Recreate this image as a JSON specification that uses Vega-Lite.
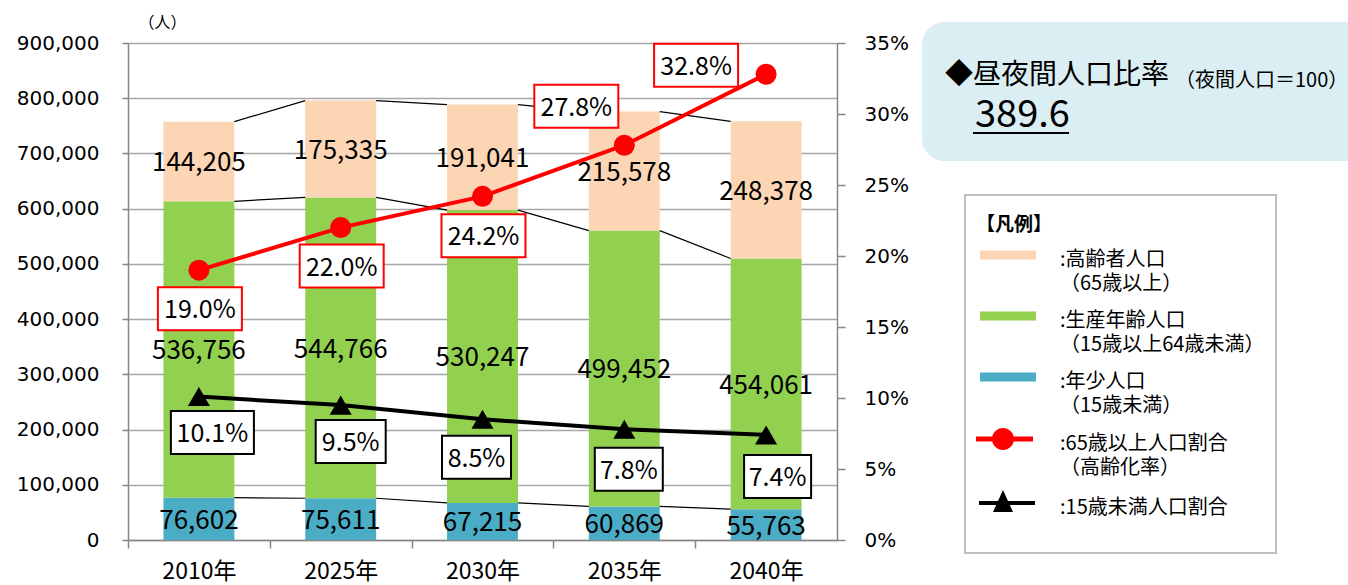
{
  "$schema": "https://vega.github.io/schema/vega-lite/v6.json",
  "width": 709,
  "height": 497,
  "autosize": {"type": "none"},
  "padding": {"left": 128, "top": 43, "right": 511, "bottom": 45},
  "background": "#ffffff",
  "title": {
    "text": "（夜間人口＝100）", "anchor": "start", "frame": "group", "orient": "top",
    "font": "Noto Sans CJK JP", "fontSize": 20, "fontWeight": "normal", "color": "#000000",
    "baseline": "middle", "offset": 0, "dx": 1047, "dy": 86
  },
  "config": {
    "view": {"stroke": null},
    "font": "Noto Sans CJK JP",
    "axisLeft": {
      "titleAngle": 0, "titleX": 34, "titleY": -20.5, "titleAlign": "center", "titleBaseline": "middle",
      "titleFont": "Noto Sans CJK JP", "titleFontSize": 16, "titleFontWeight": "normal", "titleColor": "#000000",
      "labelFont": "DejaVu Sans", "labelFontSize": 20, "labelColor": "#000000", "labelPadding": 23,
      "tickSize": 6, "tickColor": "#868686", "tickWidth": 1.5, "domainColor": "#868686", "domainWidth": 1.5,
      "grid": true, "gridColor": "#A6A6A6", "gridWidth": 1.5
    },
    "axisRight": {
      "labelFont": "DejaVu Sans", "labelFontSize": 20, "labelColor": "#000000", "labelPadding": 19,
      "tickSize": 8, "tickColor": "#868686", "tickWidth": 1.5, "domainColor": "#868686", "domainWidth": 1.5, "grid": false
    },
    "axisBottom": {
      "labelAngle": 0, "labelFont": "Noto Sans CJK JP", "labelFontSize": 23, "labelColor": "#000000",
      "labelPadding": 12, "tickSize": 8,
      "domainColor": "#868686", "domainWidth": 1.5, "tickColor": "#868686", "tickWidth": 1.5, "grid": false
    }
  },
  "datasets": {
    "pop": [
      {"year": "2010年", "young": 76602, "working": 536756, "elderly": 144205, "elderlyRate": 0.190, "youngRate": 0.101},
      {"year": "2025年", "young": 75611, "working": 544766, "elderly": 175335, "elderlyRate": 0.220, "youngRate": 0.095},
      {"year": "2030年", "young": 67215, "working": 530247, "elderly": 191041, "elderlyRate": 0.242, "youngRate": 0.085},
      {"year": "2035年", "young": 60869, "working": 499452, "elderly": 215578, "elderlyRate": 0.278, "youngRate": 0.078},
      {"year": "2040年", "young": 55763, "working": 454061, "elderly": 248378, "elderlyRate": 0.328, "youngRate": 0.074}
    ],
    "info": [
      {"item": "389.6"}
    ]
  },
  "layer": [
    {
      "layer": [
        {
          "data": {"name": "pop"},
          "transform": [
            {"fold": ["young", "working", "elderly"], "as": ["group", "count"]},
            {"stack": "count", "groupby": ["year"], "sort": [{"field": "group", "order": "descending"}], "as": ["c0", "c1"]},
            {"calculate": "(datum.c0 + datum.c1) / 2", "as": "cmid"}
          ],
          "layer": [
            {
              "mark": {"type": "bar"},
              "encoding": {
                "x": {
                  "field": "year", "type": "nominal", "sort": null,
                  "scale": {"paddingInner": 0.5, "paddingOuter": 0.25},
                  "axis": {"title": null, "tickOffset": -70.9, "labelOffset": 70.9}
                },
                "y": {
                  "field": "c0", "type": "quantitative", "scale": {"domain": [0, 900000]},
                  "axis": {"title": "（人）", "values": [0, 100000, 200000, 300000, 400000, 500000, 600000, 700000, 800000, 900000], "format": ",.0f"}
                },
                "y2": {"field": "c1"},
                "color": {
                  "field": "group", "type": "nominal",
                  "scale": {
                    "domain": ["elderly", "working", "young", "elderlyRate", "youngRate"],
                    "range": ["#FCD5B5", "#92D050", "#4BACC6", "#FF0000", "#000000"]
                  },
                  "legend": {
                    "title": [" ", "【凡例】"], "orient": "none", "legendX": 837, "legendY": 152,
                    "titleFont": "Noto Sans CJK JP", "titleFontSize": 19, "titleFontWeight": "bold", "titleColor": "#000000",
                    "titleLineHeight": 10, "titlePadding": 10,
                    "padding": 11, "strokeColor": "#BFBFBF", "fillColor": "#ffffff",
                    "labelFont": "Noto Sans CJK JP", "labelFontSize": 20, "labelColor": "#000000", "labelBaseline": "top",
                    "labelLimit": 400, "labelOffset": 44,
                    "symbolSize": 4, "symbolStrokeWidth": 0, "symbolOffset": 20, "rowPadding": 12,
                    "labelExpr": "datum.value === 'elderly' ? [':高齢者人口', '（65歳以上）'] : datum.value === 'working' ? [':生産年齢人口', '（15歳以上64歳未満）'] : datum.value === 'young' ? [':年少人口', '（15歳未満）'] : datum.value === 'elderlyRate' ? [':65歳以上人口割合', '（高齢化率）'] : [':15歳未満人口割合', ' ']",
                    "encode": {
                      "symbols": {"update": {
                        "shape": {"signal": "datum.value === 'elderlyRate' ? 'M-30,-2.5H27V2.5H-30Z M-14,0A11,11 0 1,1 8,0A11,11 0 1,1 -14,0Z' : datum.value === 'youngRate' ? 'M-27,-2H29V2H-27Z M-3,-13L7,9L-13,9Z' : 'M-26,-4.5H30V4.5H-26Z'"},
                        "fill": {"scale": "color", "field": "value"},
                        "stroke": {"value": "transparent"},
                        "strokeWidth": {"value": 0},
                        "opacity": {"value": 1},
                        "size": {"value": 4}
                      }},
                      "labels": {"update": {"dy": {"value": -5}, "lineHeight": {"value": 24}}},
                      "legend": {"update": {"strokeWidth": {"value": 2}}}
                    }
                  }
                }
              }
            },
            {
              "mark": {"type": "text", "font": "Noto Sans CJK JP", "fontSize": 26, "color": "#000000", "dy": 2},
              "encoding": {
                "x": {"field": "year", "type": "nominal", "sort": null, "axis": {"title": null}},
                "y": {"field": "cmid", "type": "quantitative", "scale": {"domain": [0, 900000]}, "axis": {"title": "（人）"}},
                "text": {"field": "count", "type": "quantitative", "format": ","}
              }
            }
          ]
        },
        {
          "data": {"name": "pop"},
          "transform": [
            {"calculate": "datum.young", "as": "b1"},
            {"calculate": "datum.young + datum.working", "as": "b2"},
            {"calculate": "datum.young + datum.working + datum.elderly", "as": "b3"},
            {"window": [
              {"op": "lead", "field": "year", "as": "nextYear"},
              {"op": "lead", "field": "b1", "as": "n1"},
              {"op": "lead", "field": "b2", "as": "n2"},
              {"op": "lead", "field": "b3", "as": "n3"}
            ], "sort": [{"field": "year"}]},
            {"filter": "datum.nextYear != null"},
            {"fold": ["b1", "b2", "b3"], "as": ["level", "from"]},
            {"calculate": "datum.level === 'b1' ? datum.n1 : datum.level === 'b2' ? datum.n2 : datum.n3", "as": "to"}
          ],
          "mark": {"type": "rule", "color": "#000000", "strokeWidth": 1.2},
          "encoding": {
            "x": {"field": "year", "type": "nominal", "sort": null, "bandPosition": 1, "axis": {"title": null}},
            "x2": {"field": "nextYear", "bandPosition": 0},
            "y": {"field": "from", "type": "quantitative", "scale": {"domain": [0, 900000]}, "axis": {"title": "（人）"}},
            "y2": {"field": "to"}
          }
        }
      ]
    },
    {
      "data": {"name": "pop"},
      "layer": [
        {
          "mark": {"type": "line", "color": "#FF0000", "strokeWidth": 4},
          "encoding": {
            "x": {"field": "year", "type": "nominal", "sort": null, "axis": {"title": null}},
            "y": {"field": "elderlyRate", "type": "quantitative", "scale": {"domain": [0, 0.35]},
              "axis": {"orient": "right", "title": null, "values": [0, 0.05, 0.1, 0.15, 0.2, 0.25, 0.3, 0.35], "format": ".0%"}}
          }
        },
        {
          "mark": {"type": "line", "color": "#000000", "strokeWidth": 4},
          "encoding": {
            "x": {"field": "year", "type": "nominal", "sort": null, "axis": {"title": null}},
            "y": {"field": "youngRate", "type": "quantitative", "scale": {"domain": [0, 0.35]}, "axis": {"orient": "right", "title": null}}
          }
        },
        {
          "mark": {"type": "point", "shape": "circle", "size": 441, "filled": true, "color": "#FF0000", "opacity": 1},
          "encoding": {
            "x": {"field": "year", "type": "nominal", "sort": null, "axis": {"title": null}},
            "y": {"field": "elderlyRate", "type": "quantitative", "scale": {"domain": [0, 0.35]}, "axis": {"orient": "right", "title": null}}
          }
        },
        {
          "mark": {"type": "point", "shape": "triangle-up", "size": 484, "filled": true, "color": "#000000", "opacity": 1},
          "encoding": {
            "x": {"field": "year", "type": "nominal", "sort": null, "axis": {"title": null}},
            "y": {"field": "youngRate", "type": "quantitative", "scale": {"domain": [0, 0.35]}, "axis": {"orient": "right", "title": null}}
          }
        },
        {
          "mark": {"type": "point", "size": 4, "filled": true, "fill": "#ffffff", "stroke": "#FF0000", "strokeWidth": 2, "opacity": 1},
          "encoding": {
            "x": {"field": "year", "type": "nominal", "sort": null, "axis": {"title": null}},
            "y": {"field": "elderlyRate", "type": "quantitative", "scale": {"domain": [0, 0.35]}, "axis": {"orient": "right", "title": null}},
            "shape": {
              "condition": [
                {"test": "datum.year === '2030年'", "value": "M-41,18H43V61H-41Z"},
                {"test": "datum.year === '2035年'", "value": "M-90,-60.5H-6V-17.5H-90Z"},
                {"test": "datum.year === '2040年'", "value": "M-112,-30.5H-28V12.5H-112Z"}
              ],
              "value": "M-41,17H43V60H-41Z"
            }
          }
        },
        {
          "mark": {
            "type": "text", "font": "Noto Sans CJK JP", "fontSize": 25, "color": "#000000",
            "dx": {"expr": "datum.year === '2035年' ? -48 : datum.year === '2040年' ? -70 : 1"},
            "dy": {"expr": "datum.year === '2035年' ? -37.5 : datum.year === '2040年' ? -7.5 : datum.year === '2030年' ? 41 : 40"}
          },
          "encoding": {
            "x": {"field": "year", "type": "nominal", "sort": null, "axis": {"title": null}},
            "y": {"field": "elderlyRate", "type": "quantitative", "scale": {"domain": [0, 0.35]}, "axis": {"orient": "right", "title": null}},
            "text": {"field": "elderlyRate", "type": "quantitative", "format": ".1%"}
          }
        },
        {
          "mark": {"type": "point", "size": 4, "filled": true, "fill": "#ffffff", "stroke": "#000000", "strokeWidth": 2, "opacity": 1},
          "encoding": {
            "x": {"field": "year", "type": "nominal", "sort": null, "axis": {"title": null}},
            "y": {"field": "youngRate", "type": "quantitative", "scale": {"domain": [0, 0.35]}, "axis": {"orient": "right", "title": null}},
            "shape": {
              "condition": [
                {"test": "datum.year === '2010年'", "value": "M-28,14.5H55V57.5H-28Z"},
                {"test": "datum.year === '2025年'", "value": "M-25,15H45V58H-25Z"},
                {"test": "datum.year === '2030年'", "value": "M-40.5,16.5H28.5V59.5H-40.5Z"},
                {"test": "datum.year === '2035年'", "value": "M-29.5,18.5H38.5V61.5H-29.5Z"}
              ],
              "value": "M-22,20H45V63H-22Z"
            }
          }
        },
        {
          "mark": {
            "type": "text", "font": "Noto Sans CJK JP", "fontSize": 25, "color": "#000000",
            "dx": {"expr": "datum.year === '2010年' ? 13.5 : datum.year === '2025年' ? 10 : datum.year === '2030年' ? -6 : datum.year === '2035年' ? 4.5 : 11.5"},
            "dy": {"expr": "datum.year === '2010年' ? 37.5 : datum.year === '2025年' ? 38 : datum.year === '2030年' ? 39.5 : datum.year === '2035年' ? 41.5 : 43"}
          },
          "encoding": {
            "x": {"field": "year", "type": "nominal", "sort": null, "axis": {"title": null}},
            "y": {"field": "youngRate", "type": "quantitative", "scale": {"domain": [0, 0.35]}, "axis": {"orient": "right", "title": null}},
            "text": {"field": "youngRate", "type": "quantitative", "format": ".1%"}
          }
        }
      ]
    },
    {
      "data": {"name": "info"},
      "mark": {"type": "point", "size": 0},
      "encoding": {
        "strokeDash": {
          "field": "item", "type": "nominal",
          "scale": {"domain": ["389.6"], "range": [[1, 0]]},
          "legend": {
            "title": [" ", "◆昼夜間人口比率"], "titleFont": "Noto Sans CJK JP", "titleFontSize": 28, "titleFontWeight": "normal",
            "titleColor": "#000000", "titleLineHeight": 17, "titlePadding": 7, "titleLimit": 1000,
            "orient": "none", "legendX": 794, "legendY": -21,
            "padding": 23, "fillColor": "#DBEEF4", "cornerRadius": 22, "strokeColor": "#DBEEF4",
            "labelFont": "Noto Sans CJK JP", "labelFontSize": 38, "labelColor": "#000000", "labelOffset": -8, "labelLimit": 600,
            "symbolType": "M9,17H105M440,0", "symbolSize": 4, "symbolStrokeColor": "#000000", "symbolStrokeWidth": 2,
            "symbolFillColor": "transparent", "symbolOffset": 0, "symbolDash": [1, 0], "symbolOpacity": 1
          }
        }
      }
    }
  ],
  "resolve": {"scale": {"y": "independent"}}
}
